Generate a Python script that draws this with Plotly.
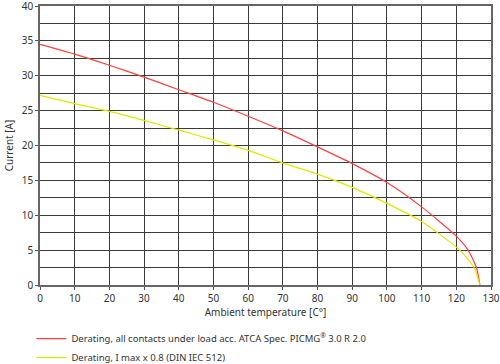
import plotly.graph_objects as go

temp_red = [0, 10, 20, 30, 40, 50, 60, 70, 80, 90, 100, 110, 120, 123.4, 125.8, 126.8]
current_red = [34.5, 33.1, 31.5, 29.8, 28.0, 26.2, 24.2, 22.1, 19.8, 17.4, 14.7, 11.2, 7.0, 5.0, 2.5, 0.0]

temp_yellow = [0, 10, 20, 30, 40, 50, 60, 70, 80, 90, 100, 110, 121, 125.1, 126.8]
current_yellow = [27.2, 26.0, 24.9, 23.6, 22.2, 20.8, 19.3, 17.5, 15.9, 14.0, 11.7, 9.1, 5.0, 2.5, 0.0]

name_red = "Derating, all contacts under load acc. ATCA Spec. PICMG<sup>®</sup> 3.0 R 2.0"
name_yellow = "Derating, I max x 0.8 (DIN IEC 512)"

x_ticks = list(range(0, 131, 10))
y_ticks = [0, 5, 10, 15, 20, 25, 30, 35, 40]

fig = go.Figure()
fig.add_trace(go.Scatter(x=temp_red, y=current_red, mode="lines", name=name_red,
                         line=dict(color="#ff4040", width=1.2, shape="spline", smoothing=0.6)))
fig.add_trace(go.Scatter(x=temp_yellow, y=current_yellow, mode="lines", name=name_yellow,
                         line=dict(color="#dde800", width=1.2, shape="spline", smoothing=0.6)))

font_family = "Noto Sans, Open Sans, DejaVu Sans, sans-serif"
grid_col = "#3a3a3a"
fig.update_layout(
    width=500, height=364,
    margin=dict(l=40, r=9, t=6, b=79, autoexpand=False),
    paper_bgcolor="white", plot_bgcolor="white",
    font=dict(family=font_family, size=10, color="#333333"),
    showlegend=True,
    legend=dict(x=-0.019, y=-0.14, xanchor="left", yanchor="top",
                bgcolor="rgba(0,0,0,0)", font=dict(size=9.5, color="#333333"),
                tracegroupgap=0, itemwidth=30),
)
fig.update_xaxes(range=[0, 130], tickvals=x_ticks, showgrid=True, gridcolor=grid_col, gridwidth=1.2,
                 showline=True, linecolor="#666666", linewidth=1.5, mirror=True, automargin=False,
                 ticks="outside", ticklen=3, tickcolor="#555555", zeroline=False,
                 ticklabeloverflow="allow",
                 title=dict(text="Ambient temperature [C°]", standoff=4, font=dict(size=10)),
                 tickfont=dict(size=10))
fig.update_yaxes(range=[0, 40], tickvals=y_ticks, showgrid=True, gridcolor=grid_col, gridwidth=1.2,
                 minor=dict(dtick=2.5, showgrid=True, gridcolor=grid_col, gridwidth=1.2),
                 showline=True, linecolor="#666666", linewidth=1.5, mirror=True, automargin=False,
                 ticks="outside", ticklen=3, tickcolor="#555555", zeroline=False,
                 ticklabeloverflow="allow",
                 title=dict(text="Current [A]", standoff=6, font=dict(size=10)),
                 tickfont=dict(size=10))

fig.write_html("out.html", config={"displayModeBar": False},
               post_script="document.body.style.margin='0';document.body.style.overflow='hidden';")
